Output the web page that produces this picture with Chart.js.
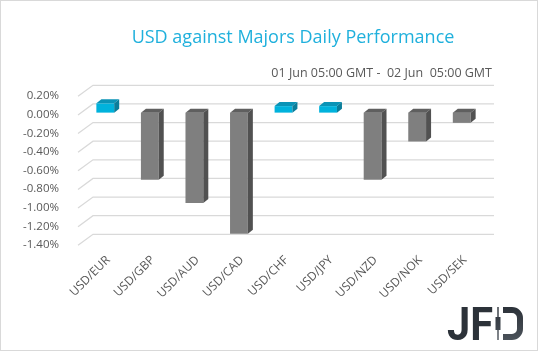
<!DOCTYPE html>
<html>
<head>
<meta charset="utf-8">
<script src="https://cdn.jsdelivr.net/npm/chart.js@4.4.1/dist/chart.umd.min.js"></script>
<style>
  html, body { margin: 0; padding: 0; background: #fff; }
  #wrap { width: 536px; height: 349px; border: 1px solid #d9d9d9; }
  canvas { display: block; }
</style>
</head>
<body>
<div id="wrap"><canvas id="perf" width="536" height="349"></canvas></div>
<script>
const pairs = ['USD/EUR', 'USD/GBP', 'USD/AUD', 'USD/CAD', 'USD/CHF', 'USD/JPY', 'USD/NZD', 'USD/NOK', 'USD/SEK'];
const changes = [0.10, -0.72, -0.97, -1.30, 0.07, 0.07, -0.72, -0.31, -0.11];
const yMin = -1.4;
const yMax = 0.2;
const yStep = 0.2;
const titleText = 'USD against Majors Daily Performance';
const periodText = '01 Jun 05:00 GMT -  02 Jun  05:00 GMT';

const cyan = { front: '#00b2dc', top: '#0a93b6', side: '#0a7d9a' };
const grey = { front: '#7f7f7f', top: '#5f5f5f', side: '#515151' };

// bar depth and back wall offset (3D look)
const bar3d = { dx: 5, dy: -4 };
const wall = { dx: 10, dy: -8.7, fx: -5, fy: 2.3 };

const wallGrid = {
    id: 'wallGrid',
    beforeDatasetsDraw(chart) {
        const ctx = chart.ctx;
        const y = chart.scales.y;
        const { left, right } = chart.chartArea;
        ctx.save();
        ctx.strokeStyle = '#d9d9d9';
        ctx.lineWidth = 1.3;
        y.ticks.forEach(t => {
            const py = y.getPixelForValue(t.value);
            ctx.beginPath();
            ctx.moveTo(left + wall.fx, py + wall.fy);
            ctx.lineTo(left + wall.dx, py + wall.dy);
            ctx.lineTo(right + wall.dx, py + wall.dy);
            ctx.stroke();
        });
        ctx.restore();
    }
};

const barFaces = {
    id: 'barFaces',
    afterDatasetsDraw(chart) {
        const ctx = chart.ctx;
        const meta = chart.getDatasetMeta(0);
        ctx.save();
        meta.data.forEach((bar, i) => {
            const p = bar.getProps(['x', 'y', 'base', 'width'], true);
            const top = Math.min(p.y, p.base);
            const bottom = Math.max(p.y, p.base);
            const l = p.x - p.width / 2;
            const r = p.x + p.width / 2;
            const c = changes[i] >= 0 ? cyan : grey;
            ctx.fillStyle = c.top;
            ctx.beginPath();
            ctx.moveTo(l, top);
            ctx.lineTo(l + bar3d.dx, top + bar3d.dy);
            ctx.lineTo(r + bar3d.dx, top + bar3d.dy);
            ctx.lineTo(r, top);
            ctx.closePath();
            ctx.fill();
            ctx.fillStyle = c.side;
            ctx.beginPath();
            ctx.moveTo(r, top);
            ctx.lineTo(r + bar3d.dx, top + bar3d.dy);
            ctx.lineTo(r + bar3d.dx, bottom + bar3d.dy);
            ctx.lineTo(r, bottom);
            ctx.closePath();
            ctx.fill();
        });
        ctx.restore();
    }
};

function drawLogo(ctx) {
    const g = ctx.createLinearGradient(0, 306, 0, 339);
    g.addColorStop(0, '#2c3239');
    g.addColorStop(1, '#4b525a');
    ctx.fillStyle = g;
    ctx.strokeStyle = g;
    ctx.font = 'bold 46px Roboto';
    ctx.textAlign = 'left';
    ctx.textBaseline = 'alphabetic';
    const w = ctx.measureText('JF').width;
    ctx.save();
    ctx.translate(446, 339);
    ctx.scale(46 / w, 1);
    ctx.fillText('JF', 0, 0);
    ctx.restore();
    // candlestick stem of the D
    ctx.fillRect(496.3, 306, 1.4, 33);
    ctx.fillRect(494.5, 316, 5, 13);
    // bowl of the D
    ctx.lineWidth = 6;
    ctx.beginPath();
    ctx.moveTo(502, 309);
    ctx.lineTo(511, 309);
    ctx.arcTo(519, 309, 519, 317, 8);
    ctx.lineTo(519, 328);
    ctx.arcTo(519, 336, 511, 336, 8);
    ctx.lineTo(502, 336);
    ctx.stroke();
}

const headerAndLogo = {
    id: 'headerAndLogo',
    afterDraw(chart) {
        const ctx = chart.ctx;
        ctx.save();
        ctx.fillStyle = '#1fb0dc';
        ctx.font = '18px "Open Sans"';
        ctx.textAlign = 'center';
        ctx.textBaseline = 'middle';
        ctx.fillText(titleText, 292, 37);

        ctx.fillStyle = '#595959';
        ctx.font = '12.5px "Open Sans"';
        ctx.textAlign = 'right';
        ctx.fillText(periodText, 491, 72);

        drawLogo(ctx);
        ctx.restore();
    }
};

new Chart(document.getElementById('perf'), {
    type: 'bar',
    data: {
        labels: pairs,
        datasets: [{
            data: changes,
            backgroundColor: changes.map(v => v >= 0 ? cyan.front : grey.front),
            borderWidth: 0,
            barPercentage: 0.4,
            categoryPercentage: 1
        }]
    },
    options: {
        responsive: false,
        animation: false,
        layout: { padding: { top: 93, left: 12, right: 53, bottom: 0 } },
        plugins: {
            legend: { display: false },
            tooltip: { enabled: false }
        },
        scales: {
            x: {
                grid: { display: false },
                border: { display: false },
                ticks: {
                    color: '#595959',
                    font: { family: 'Open Sans', size: 12 },
                    minRotation: 45,
                    maxRotation: 45,
                    padding: 2,
                    labelOffset: 3
                },
                afterFit(scale) { scale.height = 107; }
            },
            y: {
                min: yMin,
                max: yMax,
                grid: { display: false },
                border: { display: false },
                ticks: {
                    stepSize: yStep,
                    color: '#595959',
                    font: { family: 'Open Sans', size: 11.5 },
                    padding: 16,
                    labelOffset: 2,
                    callback: v => {
                        const n = Math.round(v * 100) / 100;
                        return (n === 0 ? 0 : n).toFixed(2) + '%';
                    }
                },
                afterFit(scale) { scale.width = 70; }
            }
        }
    },
    plugins: [wallGrid, barFaces, headerAndLogo]
});
</script>
</body>
</html>
